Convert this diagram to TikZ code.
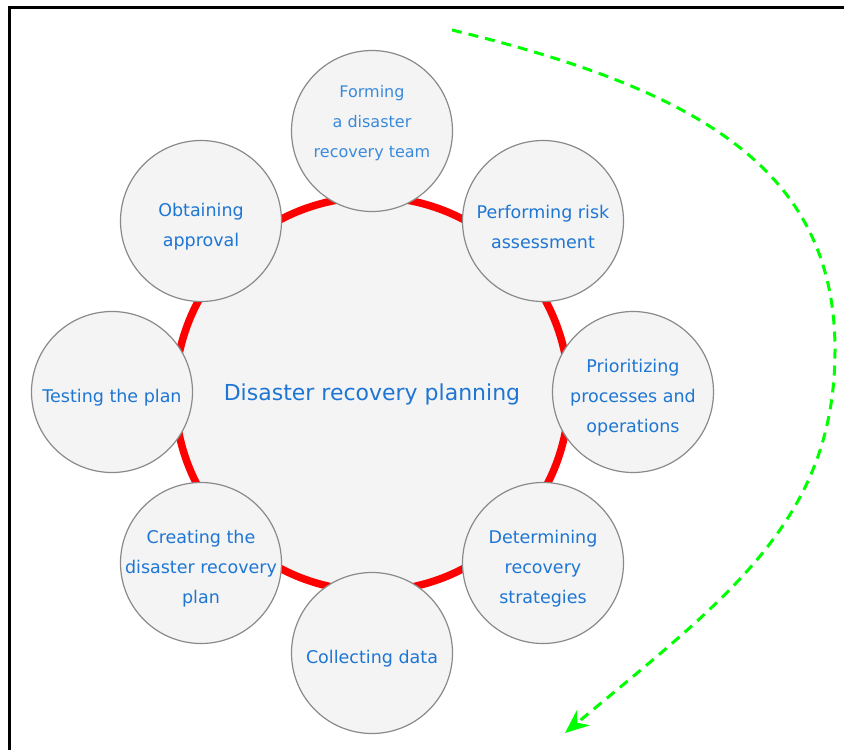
\documentclass[tikz,border=0pt]{standalone}
\usepackage{fontspec}
\setmainfont{DejaVu Sans}
\usetikzlibrary{arrows.meta}
\definecolor{ringred}{HTML}{FF0000}
\definecolor{disc}{HTML}{F4F4F4}
\definecolor{rimgrey}{HTML}{8A8A8A}
\definecolor{txtblue}{HTML}{1E76D4}
\definecolor{txtbluel}{HTML}{3A8ADC}
\definecolor{flow}{HTML}{00FF00}
\tikzset{stagetxt/.style={text=txtblue, align=center, font=\fontsize{17.5}{30}\selectfont, yshift=-6pt},
  stage/.style={circle, draw=rimgrey, line width=1.2pt, fill=disc, minimum size=161pt, inner sep=0pt,
    label={[stagetxt]center:{#1}}},
  hub/.style={circle, draw=ringred, line width=7.5pt, fill=disc, minimum size=394pt, inner sep=0pt,
    text=txtblue, font=\fontsize{22}{26}\selectfont}}

\begin{document}
\begin{tikzpicture}[x=1pt, y=-1pt]
  \useasboundingbox (0,0) rectangle (844,750);
  \draw[black, line width=3pt] (9.5,750)--(9.5,7)--(844,7);
  \node[hub, yshift=-2pt] (plan) at (372,392) {Disaster recovery planning};
  % stages round the ring
  \node[circle, draw=rimgrey, line width=1.2pt, fill=disc, minimum size=161pt, inner sep=0pt,
    label={[text=txtbluel, align=center, font=\fontsize{16}{30}\selectfont, yshift=8pt]center:{Forming\\a disaster\\recovery team}}] (form) at (372,131) {};
  \node[stage={Performing risk\\assessment}] (risk) at (543,221) {};
  \node[stage={Prioritizing\\processes and\\operations}] (prio) at (633,392) {};
  \node[stage={Determining\\recovery\\strategies}] (strat) at (543,563) {};
  \node[stage={Collecting data}] (data) at (372,653) {};
  \node[stage={Creating the\\disaster recovery\\plan}] (create) at (201,563) {};
  \node[stage={Testing the plan}] (test) at (112,392) {};
  \node[stage={Obtaining\\approval}] (appr) at (201,221) {};
  % cycle arrow
  \coordinate (gstart) at (452,30);
  \coordinate (gmid) at (835,350);
  \coordinate (gend) at (565,733);
  \draw[flow, line width=3pt, dash pattern=on 10pt off 7pt, -{Stealth[length=24pt, width=20pt, inset=8pt]}]
    (gstart) .. controls (700,90) and (835,170) .. (gmid) .. controls (835,520) and (727,598) .. (gend);
\end{tikzpicture}
\end{document}
